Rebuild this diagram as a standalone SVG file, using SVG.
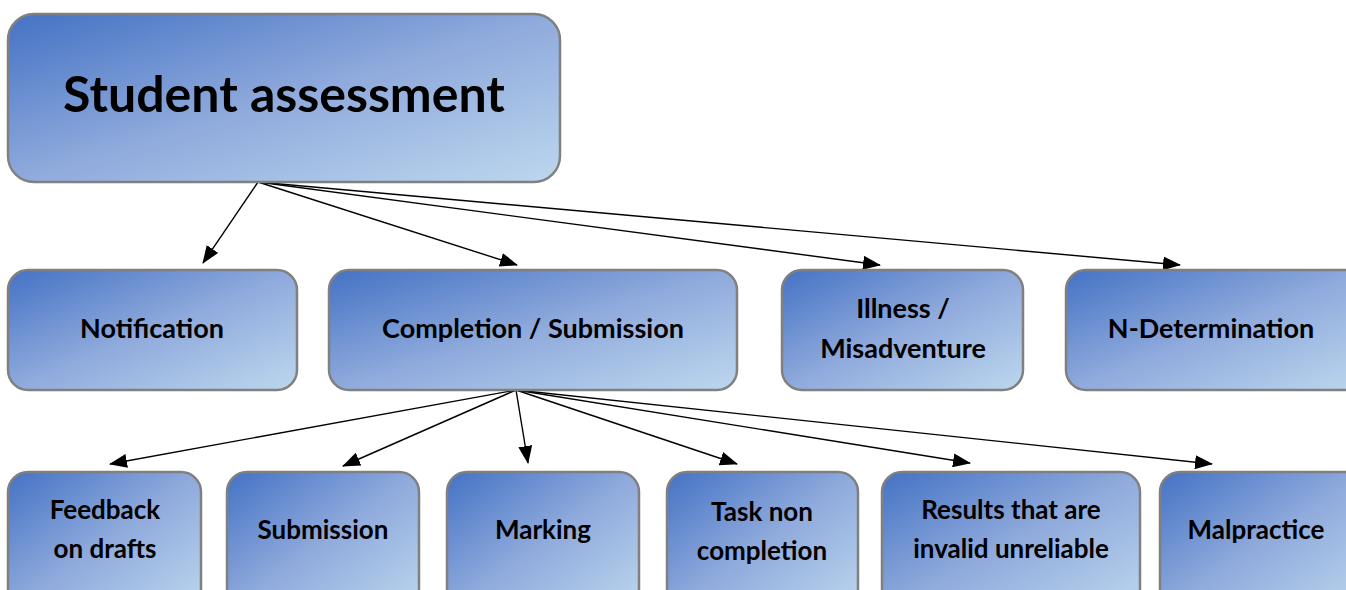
<svg xmlns="http://www.w3.org/2000/svg" width="1346" height="590" viewBox="0 0 1346 590">
<defs>
<linearGradient id="g" x1="0" y1="0" x2="1" y2="1">
<stop offset="0" stop-color="#4472C4"/>
<stop offset="0.5" stop-color="#8FAADC"/>
<stop offset="1" stop-color="#BDD7EE"/>
</linearGradient>
<marker id="ah" markerWidth="18" markerHeight="14" refX="17" refY="7" orient="auto" markerUnits="userSpaceOnUse">
<path d="M0,0 L18,7 L0,14 Z" fill="#000"/>
</marker>
<style>
.box{fill:url(#g);stroke:#808080;stroke-width:2.5}
.t{font-family:Lato,"Open Sans","Liberation Sans",sans-serif;font-weight:bold;fill:#000;text-anchor:middle}
.t1{font-size:50px}
.t2{font-size:27px}
.t3{font-size:26px}
.c{stroke:#000;stroke-width:1.4;fill:none;marker-end:url(#ah)}
</style>
</defs>
<g id="connectors">
<line class="c" x1="258" y1="182" x2="203" y2="263"/>
<line class="c" x1="258" y1="182" x2="517" y2="265"/>
<line class="c" x1="258" y1="182" x2="880" y2="265"/>
<line class="c" x1="258" y1="182" x2="1180" y2="265"/>
<line class="c" x1="516" y1="390" x2="110" y2="464"/>
<line class="c" x1="516" y1="390" x2="343" y2="466"/>
<line class="c" x1="516" y1="390" x2="528" y2="463"/>
<line class="c" x1="516" y1="390" x2="737" y2="464"/>
<line class="c" x1="516" y1="390" x2="970" y2="463"/>
<line class="c" x1="516" y1="390" x2="1212" y2="464"/>
</g>
<g id="student-assessment">
<rect class="box" x="8" y="14" width="552" height="168" rx="26"/>
<text class="t t1" x="284" y="112">Student assessment</text>
</g>
<g id="notification">
<rect class="box" x="8" y="270" width="289" height="120" rx="20"/>
<text class="t t2" x="152" y="338">Notification</text>
</g>
<g id="completion">
<rect class="box" x="329" y="270" width="408" height="120" rx="20"/>
<text class="t t2" x="533" y="338">Completion / Submission</text>
</g>
<g id="illness">
<rect class="box" x="782" y="270" width="241" height="120" rx="20"/>
<text class="t t2" x="903" y="318">Illness /</text>
<text class="t t2" x="903" y="358">Misadventure</text>
</g>
<g id="n-determination">
<rect class="box" x="1066" y="270" width="300" height="120" rx="20"/>
<text class="t t2" x="1211" y="338">N-Determination</text>
</g>
<g id="feedback">
<rect class="box" x="8" y="472" width="193" height="140" rx="20"/>
<text class="t t3" x="105" y="519">Feedback</text>
<text class="t t3" x="105" y="558">on drafts</text>
</g>
<g id="submission">
<rect class="box" x="227" y="472" width="192" height="140" rx="20"/>
<text class="t t3" x="323" y="539">Submission</text>
</g>
<g id="marking">
<rect class="box" x="447" y="472" width="192" height="140" rx="20"/>
<text class="t t3" x="543" y="539">Marking</text>
</g>
<g id="task-non-completion">
<rect class="box" x="667" y="472" width="191" height="140" rx="20"/>
<text class="t t3" x="762" y="521">Task non</text>
<text class="t t3" x="762" y="560">completion</text>
</g>
<g id="results">
<rect class="box" x="882" y="472" width="258" height="140" rx="20"/>
<text class="t t3" x="1011" y="519">Results that are</text>
<text class="t t3" x="1011" y="558">invalid unreliable</text>
</g>
<g id="malpractice">
<rect class="box" x="1160" y="472" width="206" height="140" rx="20"/>
<text class="t t3" x="1256" y="539">Malpractice</text>
</g>
</svg>
